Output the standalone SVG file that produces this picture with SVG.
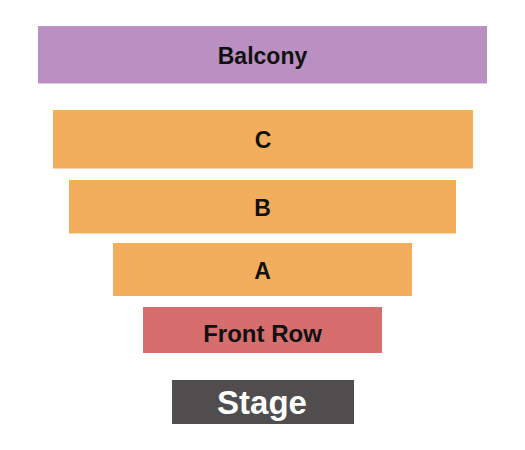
<svg xmlns="http://www.w3.org/2000/svg" width="525" height="450" viewBox="0 0 525 450">
<style>
text{font-family:"Liberation Sans",Arial,sans-serif;font-weight:bold;text-anchor:middle;fill:#111}
.o{fill:#F2AE5C}
</style>
<rect width="525" height="450" fill="#fff"/>
<g id="balcony"><rect x="38" y="26" width="449" height="57.5" fill="#BA8FC1"/><text x="262.5" y="64" font-size="23">Balcony</text></g>
<g id="c"><rect class="o" x="53" y="110" width="420" height="58.5"/><text x="263" y="148" font-size="23">C</text></g>
<g id="b"><rect class="o" x="69" y="180" width="387" height="53.5"/><text x="262.5" y="216" font-size="23">B</text></g>
<g id="a"><rect class="o" x="113" y="243" width="299" height="53"/><text x="262.5" y="279" font-size="23">A</text></g>
<g id="frontrow"><rect x="143" y="307" width="239" height="46" fill="#D66E6E"/><text x="262.5" y="341.5" font-size="24">Front Row</text></g>
<g id="stage"><rect x="172" y="380" width="182" height="44" fill="#4F4D4E"/><text x="262" y="414" font-size="33" style="fill:#fff">Stage</text></g>
<g id="connectors"/>
</svg>
